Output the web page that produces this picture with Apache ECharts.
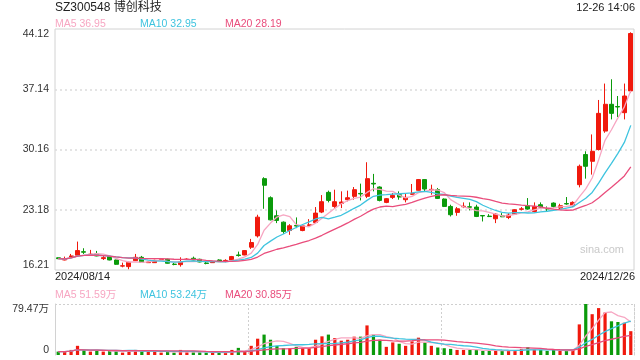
<!DOCTYPE html>
<html><head><meta charset="utf-8">
<script src="https://cdn.jsdelivr.net/npm/echarts@6/dist/echarts.min.js"></script>
<style>html,body{margin:0;padding:0;background:#fff}#c{width:640px;height:360px}</style>
</head><body><div id="c"></div>
<script>
const titleText = 'SZ300548 博创科技';
const timeText = '12-26 14:06';
const priceLegend = ['MA5 36.95', 'MA10 32.95', 'MA20 28.19'];
const volLegend = ['MA5 51.59万', 'MA10 53.24万', 'MA20 30.85万'];
const priceTicks = ['16.21', '23.18', '30.16', '37.14', '44.12'];
const volTicks = ['0', '79.47万'];
const watermark = 'sina.com';

const dates = [
'2024/08/14','2024/08/15','2024/08/16','2024/08/19','2024/08/20','2024/08/21','2024/08/22','2024/08/23','2024/08/26','2024/08/27','2024/08/28','2024/08/29','2024/08/30',
'2024/09/02','2024/09/03','2024/09/04','2024/09/05','2024/09/06','2024/09/09','2024/09/10','2024/09/11','2024/09/12','2024/09/13','2024/09/18','2024/09/19','2024/09/20','2024/09/23','2024/09/24','2024/09/25','2024/09/26','2024/09/27','2024/09/30',
'2024/10/08','2024/10/09','2024/10/10','2024/10/11','2024/10/14','2024/10/15','2024/10/16','2024/10/17','2024/10/18','2024/10/21','2024/10/22','2024/10/23','2024/10/24','2024/10/25','2024/10/28','2024/10/29','2024/10/30','2024/10/31',
'2024/11/01','2024/11/04','2024/11/05','2024/11/06','2024/11/07','2024/11/08','2024/11/11','2024/11/12','2024/11/13','2024/11/14','2024/11/15','2024/11/18','2024/11/19','2024/11/20','2024/11/21','2024/11/22','2024/11/25','2024/11/26','2024/11/27','2024/11/28','2024/11/29',
'2024/12/02','2024/12/03','2024/12/04','2024/12/05','2024/12/06','2024/12/09','2024/12/10','2024/12/11','2024/12/12','2024/12/13','2024/12/16','2024/12/17','2024/12/18','2024/12/19','2024/12/20','2024/12/23','2024/12/24','2024/12/25','2024/12/26'
];

const open = [
17.62,17.37,17.68,17.92,18.33,18.00,18.07,17.53,17.76,17.37,
16.66,16.60,17.29,17.68,17.06,17.06,17.45,17.45,16.89,16.83,
17.43,17.57,17.45,17.02,17.06,17.37,17.26,17.37,17.95,17.95,
18.85,20.16,26.79,24.58,22.49,21.75,20.78,21.37,20.78,21.37,
21.71,22.92,25.20,23.57,23.92,24.35,24.74,25.08,24.74,26.25,
25.82,24.04,24.62,24.93,24.35,24.97,25.44,26.68,25.48,25.51,
24.43,23.57,22.88,23.53,23.53,23.50,22.52,22.45,22.14,22.49,
22.30,22.68,23.24,23.65,22.99,23.77,23.32,23.96,23.38,23.90,
23.65,26.09,29.58,28.80,30.16,32.30,35.40,35.14,34.43,36.95
];
const close = [
17.52,17.45,17.84,18.46,18.27,18.05,17.84,17.64,17.37,16.87,
16.70,17.10,17.68,17.10,17.14,17.33,17.47,16.99,16.85,17.18,
17.47,17.37,17.14,16.97,17.18,17.18,17.32,17.76,17.89,18.46,
19.39,22.33,26.02,22.02,21.95,20.67,21.33,21.30,21.33,21.44,
22.80,24.12,24.27,24.12,24.08,24.58,25.51,25.02,26.79,26.17,
24.27,24.47,24.85,24.66,24.62,25.05,26.68,25.59,25.55,24.50,
23.57,22.61,23.30,23.60,23.48,22.41,22.47,22.40,22.68,22.37,
22.57,23.19,23.29,23.27,23.57,23.50,23.28,23.57,23.65,23.86,
24.04,28.22,28.22,29.96,34.35,35.40,34.35,35.09,36.36,43.60
];
const low = [
17.48,17.33,17.64,17.88,18.07,17.84,17.80,17.37,17.33,16.80,
16.52,16.30,17.25,17.06,17.02,17.02,17.40,16.95,16.76,16.60,
17.37,17.33,17.10,16.87,17.02,17.14,17.10,17.33,17.76,17.92,
18.65,19.97,23.30,21.95,21.64,20.40,20.28,21.06,20.70,21.25,
21.64,22.80,24.04,23.38,23.38,24.16,24.35,24.27,24.54,25.32,
24.16,23.95,24.43,24.35,24.04,24.89,25.40,25.32,24.93,24.43,
23.50,22.41,22.49,23.38,23.11,22.34,21.83,22.34,21.64,22.34,
22.10,22.60,23.11,23.19,22.88,23.38,22.99,23.38,23.19,23.77,
23.50,25.78,26.79,27.26,30.05,32.10,33.65,33.92,33.65,36.75
];
const high = [
17.66,17.76,18.07,19.50,18.73,18.54,18.42,17.84,17.80,17.40,
17.06,17.20,18.07,17.84,17.20,17.40,17.60,17.52,17.02,17.68,
17.56,17.76,17.52,17.14,17.25,17.45,17.45,17.84,18.34,18.50,
19.81,22.61,26.95,24.74,23.11,21.83,21.52,22.30,21.40,22.10,
23.50,24.89,25.40,25.51,25.32,25.40,25.82,26.21,28.69,27.34,
25.90,24.55,25.13,25.32,25.01,26.17,26.75,26.70,26.09,25.71,
24.50,23.77,23.50,24.04,24.04,23.77,22.55,22.68,22.80,22.80,
22.80,23.25,23.50,24.54,24.04,24.04,23.57,24.04,23.88,24.66,
24.16,28.42,29.96,31.91,35.90,37.80,38.30,36.36,37.80,43.74
];
// volume in 万
const volume = [
5.3,5.3,7.9,14.3,7.9,5.3,6.4,5.3,6.4,6.4,
3.7,6.9,7.9,6.4,5.3,6.4,3.7,5.3,3.7,7.9,
4.2,4.2,4.2,3.7,3.7,4.2,3.7,7.9,11.1,5.3,
14.3,25.4,31.8,23.8,14.3,10.6,10.6,12.7,10.6,10.6,
23.8,29.1,31.8,26.5,22.3,23.8,28.6,28.6,46.1,31.8,
23.8,12.7,19.6,17.5,14.3,21.2,27.0,19.6,14.3,11.7,
10.6,9.5,7.9,7.9,7.9,7.9,6.4,6.4,7.4,6.4,
6.9,7.4,9.5,12.2,9.0,7.9,6.4,7.9,6.4,6.4,
7.9,47.7,79.47,63.6,73.1,66.2,52.5,51.4,50.3,37.1
];

const RED = '#f0190d', GREEN = '#0b9a0b';
const C5 = '#f7a6c2', C10 = '#3fc4df', C20 = '#e94d7c';
const FONT = '"Liberation Sans", Arial, "Noto Sans CJK SC", sans-serif';

function ma(arr, n) {
  return arr.map((_, i) => {
    const s = Math.max(0, i - n + 1);
    let sum = 0;
    for (let k = s; k <= i; k++) sum += arr[k];
    return +(sum / (i - s + 1)).toFixed(3);
  });
}

const kData = open.map((o, i) => [o, close[i], low[i], high[i]]);
const volData = volume.map((v, i) => ({
  value: v,
  itemStyle: { color: close[i] >= open[i] ? RED : GREEN }
}));

const pMin = 16.21, pMax = 44.12, pInt = (pMax - pMin) / 4;
const vMax = 79.47;

const chart = echarts.init(document.getElementById('c'), null, { renderer: 'canvas' });

function lineSeries(name, data, color, xi, yi) {
  return {
    name, type: 'line', data, xAxisIndex: xi, yAxisIndex: yi,
    showSymbol: false, symbol: 'none', smooth: false, z: 5,
    lineStyle: { color, width: 1.3 }, silent: true
  };
}

function txt(text, x, y, color, size, align, vAlign) {
  return {
    type: 'text', x, y, silent: true,
    style: { text, fill: color, font: size + 'px ' + FONT, textAlign: align || 'left', textVerticalAlign: vAlign || 'middle' }
  };
}

chart.setOption({
  animation: false,
  backgroundColor: '#fff',
  textStyle: { fontFamily: FONT },
  grid: [
    { left: 55, right: 6, top: 29, height: 241, show: true, borderColor: '#d2d2d2', borderWidth: 1, backgroundColor: 'transparent' },
    { left: 55, right: 6, top: 304, height: 51 }
  ],
  xAxis: [
    { type: 'category', gridIndex: 0, data: dates, boundaryGap: true,
      axisLine: { show: false }, axisTick: { show: false }, axisLabel: { show: false }, splitLine: { show: false } },
    { type: 'category', gridIndex: 1, data: dates, boundaryGap: true,
      axisLine: { show: false }, axisTick: { show: false }, axisLabel: { show: false },
      splitLine: { show: true, interval: (i) => i === 30 || i === 60, lineStyle: { color: '#cfcfcf', type: [2, 2], width: 1 } } }
  ],
  yAxis: [
    { type: 'value', gridIndex: 0, min: pMin, max: pMax, interval: pInt, scale: true,
      axisLine: { show: false }, axisTick: { show: false },
      splitLine: { show: true, showMinLine: false, showMaxLine: false, lineStyle: { color: '#dcdcdc', type: [2, 3], width: 1.5 } },
      axisLabel: { color: '#333', fontSize: 10.5, margin: 6, fontFamily: FONT,
        verticalAlignMinLabel: 'bottom', verticalAlignMaxLabel: 'top',
        formatter: (v) => priceTicks[Math.round((v - pMin) / pInt)] } },
    { type: 'value', gridIndex: 1, min: 0, max: vMax, interval: vMax,
      axisLine: { show: true, lineStyle: { color: '#d2d2d2' } }, axisTick: { show: false },
      splitLine: { show: true, showMinLine: false, lineStyle: { color: '#cfcfcf', type: [2, 2], width: 1 } },
      axisLabel: { color: '#333', fontSize: 10.5, margin: 6, fontFamily: FONT,
        verticalAlignMinLabel: 'bottom', verticalAlignMaxLabel: 'top',
        formatter: (v) => volTicks[Math.round(v / vMax)] } },
    { type: 'value', gridIndex: 1, min: 0, max: vMax, position: 'right',
      axisLine: { show: true, lineStyle: { color: '#cfcfcf', type: [2, 2] } }, axisTick: { show: false },
      axisLabel: { show: false }, splitLine: { show: false } }
  ],
  series: [
    { name: 'K', type: 'candlestick', xAxisIndex: 0, yAxisIndex: 0, data: kData, barWidth: '70%',
      itemStyle: { color: RED, color0: GREEN, borderColor: RED, borderColor0: GREEN, borderWidth: 1 } },
    lineSeries('MA5', ma(close, 5), C5, 0, 0),
    lineSeries('MA10', ma(close, 10), C10, 0, 0),
    lineSeries('MA20', ma(close, 20), C20, 0, 0),
    { name: 'VOL', type: 'bar', xAxisIndex: 1, yAxisIndex: 1, data: volData, barWidth: '50%' },
    lineSeries('VMA5', ma(volume, 5), C5, 1, 1),
    lineSeries('VMA10', ma(volume, 10), C10, 1, 1),
    lineSeries('VMA20', ma(volume, 20), C20, 1, 1)
  ],
  graphic: [
    txt(titleText, 55, 8, '#222', 12),
    txt(timeText, 635, 8, '#222', 11, 'right'),
    txt(priceLegend[0], 55, 24, C5, 10.5),
    txt(priceLegend[1], 140, 24, C10, 10.5),
    txt(priceLegend[2], 225, 24, C20, 10.5),
    txt(dates[0], 55, 277, '#222', 11),
    txt(dates[dates.length - 1], 635, 277, '#222', 11, 'right'),
    txt(volLegend[0], 55, 295, C5, 10.5),
    txt(volLegend[1], 140, 295, C10, 10.5),
    txt(volLegend[2], 225, 295, C20, 10.5),
    txt(watermark, 602, 250, '#c9c9c9', 11, 'center')
  ]
});
</script>
</body></html>
